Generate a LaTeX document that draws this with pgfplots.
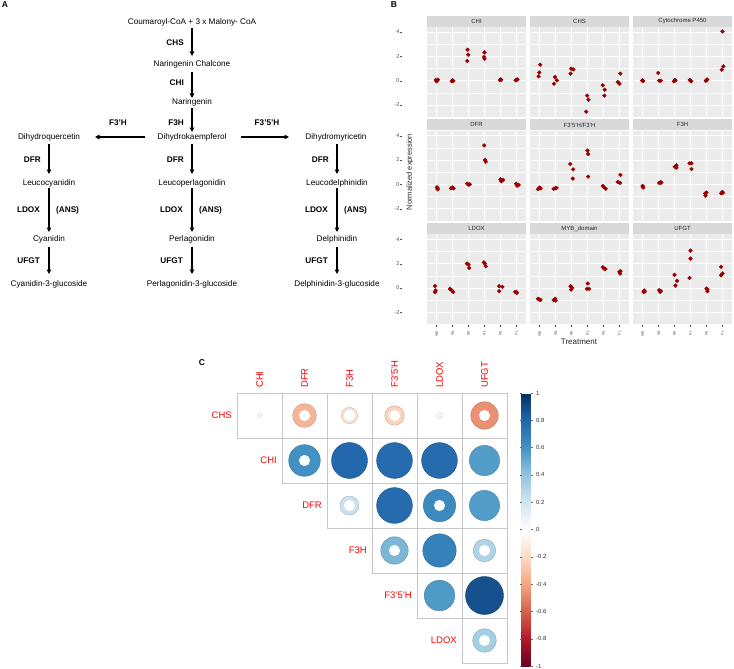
\documentclass[border=0pt]{standalone}
\usepackage{fontspec}
\setmainfont{Liberation Sans}
\usepackage{pgfplots}
\usepackage{pgfplotstable}
\pgfplotsset{compat=1.18}
\usetikzlibrary{arrows.meta}
\definecolor{panelgray}{HTML}{EBEBEB}
\definecolor{stripgray}{HTML}{D9D9D9}
\definecolor{ptred}{HTML}{9A0000}
\definecolor{tickgray}{HTML}{4D4D4D}

\pgfplotstableread{
x y r
1 1 -0.01
2 1 -0.34
3 1 -0.16
4 1 -0.23
5 1 -0.02
6 1 -0.46
2 2 0.61
3 2 0.79
4 2 0.78
5 2 0.78
6 2 0.56
3 3 0.22
4 3 0.78
5 3 0.64
6 3 0.56
4 4 0.46
5 4 0.68
6 4 0.31
5 5 0.57
6 5 0.88
6 6 0.34
}\corrtab

\pgfplotsset{
  facet/.style={
    scale only axis, width=99pt, height=91pt, anchor=north west,
    xmin=0.4, xmax=6.6, ymin=-3.07, ymax=4.42,
    axis background/.style={fill=panelgray},
    axis line style={draw=none},
    xmajorgrids, ymajorgrids, yminorgrids,
    major grid style={white, line width=0.8pt},
    minor grid style={white, line width=0.4pt},
    xtick={1,2,3,4,5,6}, ytick={-2,0,2,4}, minor ytick={-3,-1,1,3},
    minor tick length=0pt, major tick length=2pt, tick align=outside,
    tick style={tickgray, line width=0.4pt},
    ytick style={draw=none},
    /pgf/number format/assume math mode=true,
    yticklabel={\pgfmathprintnumber{\tick}\,\textcolor{tickgray}{\rule[0.5ex]{2pt}{0.4pt}}},
    yticklabel style={font=\fontsize{5.5}{6}\selectfont, text=tickgray, xshift=-19pt},
    every axis title/.style={at={(0.5,1)}, anchor=south, fill=stripgray,
      minimum width=99pt, minimum height=11pt, inner sep=0pt,
      font=\fontsize{6}{7}\selectfont, text=black!85},
  },
  notleft/.style={yticklabels={}},
  notbottom/.style={xticklabels={}, xtick style={draw=none}},
  bottom/.style={xticklabels={WE,WL,RE,RL,PE,PL},
    xticklabel style={rotate=90, anchor=east, font=\fontsize{3.5}{4}\selectfont, text=tickgray}},
  pts/.style={only marks, mark=*, mark size=1.9pt, color=ptred},
}

\begin{document}
\begin{tikzpicture}
\path[use as bounding box] (0pt,0pt) rectangle (734pt,-669pt);

% ---------------- Panel A ----------------
\begin{scope}[x=1pt, y=-1pt,
  every node/.style={font=\fontsize{8.2}{10}\selectfont, inner sep=0pt},
  arr/.style={-{Triangle[length=4.5pt,width=4.5pt]}, line width=1.4pt},
  enz/.style={font=\fontsize{8.2}{10}\selectfont\bfseries, anchor=east}]
\node[font=\fontsize{8.5}{10}\selectfont\bfseries] at (5,5) {A};
\node at (192,22) {Coumaroyl-CoA + 3 x Malony- CoA};
\draw[arr] (192,28) -- (192,56);
\node[enz] at (184,43) {CHS};
\node at (192,64) {Naringenin Chalcone};
\draw[arr] (192,72) -- (192,98);
\node[enz] at (184,83) {CHI};
\node at (192,102) {Naringenin};
\draw[arr] (192,108) -- (192,132);
\node[enz] at (184,123) {F3H};
\node at (192,137) {Dihydrokaempferol};
\node at (49,137) {Dihydroquercetin};
\node at (336,137) {Dihydromyricetin};
\draw[arr] (145,137) -- (95,137);
\draw[arr] (241,137) -- (289,137);
\node[font=\fontsize{8.2}{10}\selectfont\bfseries] at (118,123) {F3'H};
\node[font=\fontsize{8.2}{10}\selectfont\bfseries] at (267,123) {F3'5'H};
\foreach \cx/\a/\b/\c/\d in {49/Leucocyanidin/Cyanidin/Cyanidin-3-glucoside/x,
  192/Leucoperlagonidin/Perlagonidin/Perlagonidin-3-glucoside/x,
  337/Leucodelphinidin/Delphinidin/Delphinidin-3-glucoside/x}{
  \draw[arr] (\cx,144) -- (\cx,174);
  \node[enz] at (\cx-8,160) {DFR};
  \node at (\cx,183) {\a};
  \draw[arr] (\cx,188) -- (\cx,232);
  \node[enz] at (\cx-9,210) {LDOX};
  \node[font=\fontsize{8.2}{10}\selectfont\bfseries, anchor=west] at (\cx+7,210) {(ANS)};
  \node at (\cx,239) {\b};
  \draw[arr] (\cx,247) -- (\cx,274);
  \node[enz] at (\cx-9,261) {UFGT};
  \node at (\cx,284) {\c};
}
\end{scope}

% ---------------- Panel B ----------------
\node[font=\fontsize{8.5}{10}\selectfont\bfseries, inner sep=0pt] at (394pt,-5pt) {B};
\node[rotate=90, font=\fontsize{7.5}{9}\selectfont, text=black!85, inner sep=0pt] at (410pt,-172pt) {Normalized expression};
\node[font=\fontsize{8}{10}\selectfont, text=black!85, inner sep=0pt] at (579pt,-342pt) {Treatment};

% Row 1
\begin{axis}[facet, notbottom, at={(427pt,-27pt)}, title={CHI}]
\addplot[pts] coordinates {(0.95,0.05)(1.0,-0.05)(1.08,0.08)(1.95,-0.05)(2.0,0.03)(2.05,-0.02)
(2.94,2.55)(2.98,2.14)(2.92,1.62)(4.0,2.33)(3.97,1.95)(4.0,1.81)
(4.97,0.05)(5.0,0.1)(5.04,0.08)(5.95,0.04)(6.02,0.08)(6.06,0.1)};
\end{axis}
\begin{axis}[facet, notbottom, notleft, at={(530pt,-27pt)}, title={CHS}]
\addplot[pts] coordinates {(0.94,0.36)(0.98,0.68)(1.04,1.32)(1.9,-0.25)(1.96,0.30)(2.08,0.03)
(2.94,0.58)(2.98,0.99)(3.12,0.93)(3.92,-2.55)(3.98,-1.23)(4.06,-1.56)
(4.96,-0.38)(5.08,-0.74)(5.06,-1.23)(5.9,-0.11)(6.0,-0.25)(6.06,0.58)};
\end{axis}
\begin{axis}[facet, notbottom, notleft, at={(633pt,-27pt)}, title={Cytochrome P450}]
\addplot[pts] coordinates {(0.98,0.0)(1.0,0.03)(1.04,-0.02)(1.98,0.63)(2.04,0.0)(2.14,0.0)
(2.96,-0.06)(3.02,0.04)(3.06,0.02)(3.96,0.06)(4.0,0.0)(4.04,-0.06)
(4.96,0.0)(5.0,0.03)(5.04,0.1)(6.0,4.05)(5.96,0.9)(6.06,1.18)};
\end{axis}
% Row 2
\begin{axis}[facet, notbottom, at={(427pt,-130.6pt)}, title={DFR}]
\addplot[pts] coordinates {(1.02,-0.25)(1.06,-0.41)(1.08,-0.33)(1.9,-0.33)(2.0,-0.27)(2.06,-0.33)
(2.92,0.05)(3.02,-0.03)(3.08,0.0)(3.98,3.2)(4.04,2.0)(4.08,1.86)
(5.0,0.41)(5.06,0.25)(5.16,0.36)(5.98,0.05)(6.04,-0.11)(6.14,-0.05)};
\end{axis}
\begin{axis}[facet, notbottom, notleft, at={(530pt,-130.6pt)}, title={F3'5'H/F3'H}]
\addplot[pts] coordinates {(0.9,-0.41)(1.0,-0.27)(1.06,-0.33)(1.88,-0.38)(1.98,-0.33)(2.06,-0.3)
(2.92,1.67)(3.1,1.23)(3.08,0.47)(4.0,2.77)(4.04,2.49)(4.04,0.63)
(4.96,-0.14)(5.04,-0.25)(5.14,-0.36)(5.9,0.19)(6.04,0.11)(6.06,0.77)};
\end{axis}
\begin{axis}[facet, notbottom, notleft, at={(633pt,-130.6pt)}, title={F3H}]
\addplot[pts] coordinates {(1.0,-0.14)(1.04,-0.27)(1.02,-0.2)(2.04,0.11)(2.12,0.16)(2.18,0.14)
(3.02,1.45)(3.12,1.56)(3.12,1.37)(3.94,1.73)(4.06,1.73)(4.06,1.26)
(4.92,-0.74)(4.94,-0.93)(5.0,-0.68)(5.92,-0.74)(6.0,-0.63)(6.02,-0.71)};
\end{axis}
% Row 3
\begin{axis}[facet, bottom, at={(427pt,-234.2pt)}, title={LDOX}]
\addplot[pts] coordinates {(0.9,0.15)(0.94,-0.2)(0.9,-0.35)(1.84,-0.08)(1.94,-0.19)(2.04,-0.33)
(2.9,2.0)(3.0,1.92)(3.04,1.64)(3.96,2.1)(4.08,1.78)(4.02,2.0)
(4.92,0.14)(4.92,-0.27)(5.12,0.08)(5.92,-0.33)(6.02,-0.36)(6.02,-0.41)};
\end{axis}
\begin{axis}[facet, bottom, notleft, at={(530pt,-234.2pt)}, title={MYB\_domain}]
\addplot[pts] coordinates {(0.9,-0.9)(1.0,-0.96)(1.06,-0.99)(1.88,-1.01)(1.98,-0.9)(2.0,-1.04)
(2.94,0.14)(2.98,-0.14)(3.04,0.0)(4.02,0.36)(3.96,-0.08)(4.1,-0.08)
(4.96,1.70)(5.06,1.56)(5.12,1.56)(6.0,1.32)(6.04,1.18)(6.06,1.37)};
\end{axis}
\begin{axis}[facet, bottom, notleft, at={(633pt,-234.2pt)}, title={UFGT}]
\addplot[pts] coordinates {(1.06,-0.33)(1.1,-0.22)(1.14,-0.3)(2.04,-0.19)(2.1,-0.33)(2.14,-0.27)
(3.0,1.07)(3.06,0.19)(3.16,0.58)(4.0,3.07)(4.0,2.41)(3.94,0.82)
(5.0,-0.05)(5.06,-0.27)(5.06,-0.14)(5.92,1.73)(5.92,1.04)(6.0,1.18)};
\end{axis}

% ---------------- Panel C ----------------
\begin{scope}[x=1pt, y=-1pt]
\node[font=\fontsize{8.5}{10}\selectfont\bfseries, inner sep=0pt] at (202,363) {C};
\foreach \i in {0,...,5}{
  \foreach \j in {\i,...,5}{
    \draw[black!22, line width=0.6pt] (237+45*\j, 393+45*\i) rectangle ++(45,45);
  }
}
\foreach \lab [count=\k from 0] in {CHI,DFR,F3H,F3'5'H,LDOX,UFGT}{
  \node[rotate=90, anchor=west, text=red, font=\fontsize{9.5}{11}\selectfont, inner sep=0pt] at (259.5+45*\k, 388) {\lab};
}
\foreach \lab [count=\k from 0] in {CHS,CHI,DFR,F3H,F3'5'H,LDOX}{
  \node[anchor=east, text=red, font=\fontsize{9.5}{11}\selectfont, inner sep=0pt] at (232+45*\k, 415.5+45*\k) {\lab};
}
\end{scope}

\begin{axis}[at={(237pt,-393pt)}, anchor=north west, scale only axis,
  width=270pt, height=270pt, xmin=0.5, xmax=6.5, ymin=0.5, ymax=6.5,
  y dir=reverse, hide axis, clip=false,
  colormap={rdbu}{rgb255=(103,0,31) rgb255=(178,24,43) rgb255=(214,96,77) rgb255=(244,165,130) rgb255=(253,219,199) rgb255=(255,255,255) rgb255=(209,229,240) rgb255=(146,197,222) rgb255=(67,147,195) rgb255=(33,102,172) rgb255=(5,48,97)},
  point meta min=-1, point meta max=1,
  colorbar,
  colorbar style={at={(parent axis.north east)}, anchor=north west, xshift=6pt,
    width=9pt, height=273pt,
    ytick={-1,-0.8,-0.6,-0.4,-0.2,0,0.2,0.4,0.6,0.8,1},
    /pgf/number format/assume math mode=true,
    yticklabel style={font=\fontsize{6}{7}\selectfont, text=black!80},
    yticklabel pos=right, axis line style={draw=none},
    major tick length=2pt, tick align=outside,
    ytick style={black!60, line width=0.4pt}},
]
\addplot[scatter, only marks, mark=*, point meta=explicit,
  visualization depends on={20.25*sqrt(abs(\thisrow{r}))\as\rad},
  scatter/@pre marker code/.append style={/tikz/mark size=\rad}]
  table[x=x, y=y, meta=r] {\corrtab};
\addplot[only marks, mark=*, mark size=5.3pt, draw=white, fill=white]
  coordinates {(2,1)(3,1)(4,1)(6,1)(2,2)(3,3)(5,3)(4,4)(6,4)(6,6)};
\end{axis}
\end{tikzpicture}
\end{document}
